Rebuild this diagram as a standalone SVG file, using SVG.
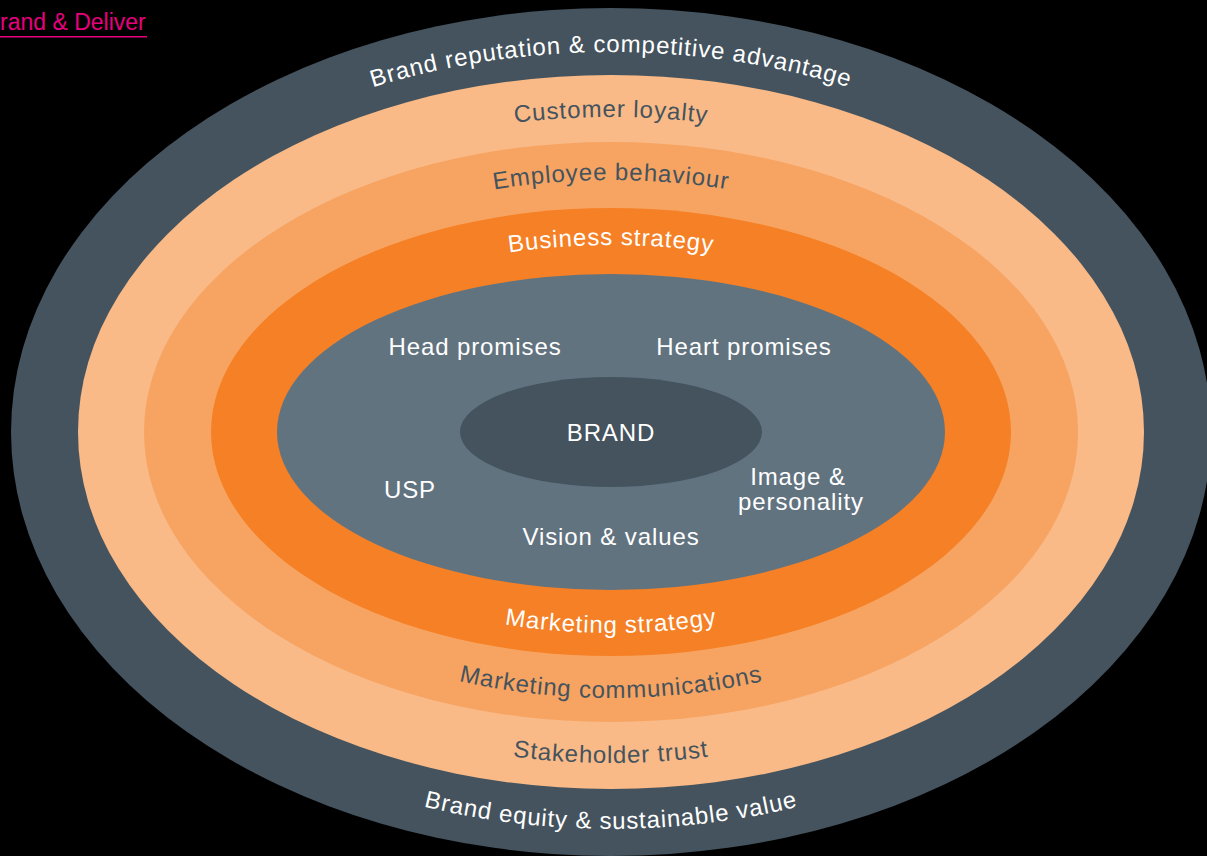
<svg xmlns="http://www.w3.org/2000/svg" xmlns:xlink="http://www.w3.org/1999/xlink" width="1207" height="856" viewBox="0 0 1207 856">
<style>
.lbl{font-family:"Liberation Sans",Arial,sans-serif;font-size:24px;letter-spacing:0.9px}
.w{fill:#ffffff}
.d{fill:#44535e}
</style>
<defs>
<path id="t1" d="M45,432 A566,380 0 0 1 1177,432"/>
<path id="t2" d="M111,432 A500,315 0 0 1 1111,432"/>
<path id="t3" d="M178,432 A433,252 0 0 1 1044,432"/>
<path id="t4" d="M244,432 A367,187 0 0 1 978,432"/>
<path id="b4" d="M244,432 A367,201 0 0 0 978,432"/>
<path id="b3" d="M178,432 A433,266 0 0 0 1044,432"/>
<path id="b2" d="M111,432 A500,331 0 0 0 1111,432"/>
<path id="b1" d="M45,432 A566,397 0 0 0 1177,432"/>
</defs>
<rect width="1207" height="856" fill="#000000"/>
<g id="link">
<text x="0" y="30" fill="#e6007e" style="font-family:'Liberation Sans',Arial,sans-serif;font-size:23px">rand &amp; Deliver</text>
<rect x="0" y="36" width="147" height="1.5" fill="#e6007e"/>
</g>
<g id="ring-outer"><ellipse cx="611" cy="432" rx="600" ry="424" fill="#44535e"/>
<text class="lbl w"><textPath xlink:href="#t1" startOffset="50%" text-anchor="middle">Brand reputation &amp; competitive advantage</textPath></text>
<text class="lbl w"><textPath xlink:href="#b1" startOffset="50%" text-anchor="middle">Brand equity &amp; sustainable value</textPath></text>
</g>
<g id="ring-light"><ellipse cx="611" cy="432" rx="533" ry="357" fill="#f9ba87"/>
<text class="lbl d"><textPath xlink:href="#t2" startOffset="50%" text-anchor="middle">Customer loyalty</textPath></text>
<text class="lbl d"><textPath xlink:href="#b2" startOffset="50%" text-anchor="middle">Stakeholder trust</textPath></text>
</g>
<g id="ring-medium"><ellipse cx="611" cy="432" rx="467" ry="290" fill="#f7a462"/>
<text class="lbl d"><textPath xlink:href="#t3" startOffset="50%" text-anchor="middle">Employee behaviour</textPath></text>
<text class="lbl d"><textPath xlink:href="#b3" startOffset="50%" text-anchor="middle">Marketing communications</textPath></text>
</g>
<g id="ring-orange"><ellipse cx="611" cy="432" rx="400" ry="224" fill="#f58025"/>
<text class="lbl w"><textPath xlink:href="#t4" startOffset="50%" text-anchor="middle">Business strategy</textPath></text>
<text class="lbl w"><textPath xlink:href="#b4" startOffset="50%" text-anchor="middle">Marketing strategy</textPath></text>
</g>
<g id="ring-gray"><ellipse cx="611" cy="432" rx="334" ry="158" fill="#627380"/>
<text class="lbl w" x="475" y="355" text-anchor="middle">Head promises</text>
<text class="lbl w" x="744" y="355" text-anchor="middle">Heart promises</text>
<text class="lbl w" x="410" y="498" text-anchor="middle">USP</text>
<text class="lbl w" x="798" y="485" text-anchor="middle">Image &amp;</text>
<text class="lbl w" x="801" y="510" text-anchor="middle">personality</text>
<text class="lbl w" x="611" y="545" text-anchor="middle">Vision &amp; values</text>
</g>
<g id="brand"><ellipse cx="611" cy="432" rx="151" ry="55" fill="#44535e"/>
<text class="lbl w" x="611" y="441" text-anchor="middle">BRAND</text>
</g>
<g id="connectors"/>
</svg>
